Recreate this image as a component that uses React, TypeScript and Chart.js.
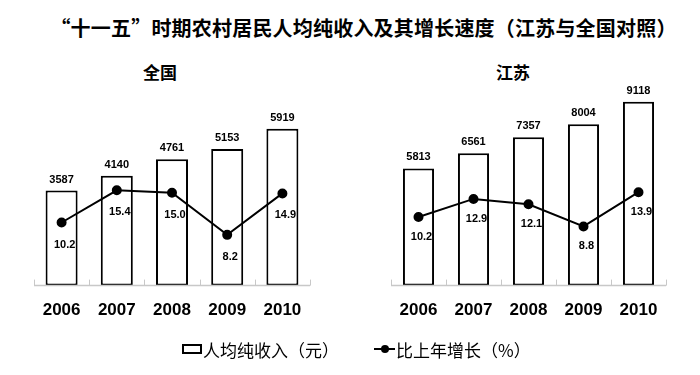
import React, { useEffect, useRef } from "react";
import { Chart, registerables } from "chart.js";

Chart.register(...registerables);

const years = ["2006", "2007", "2008", "2009", "2010"];
const nationalIncome = [3587, 4140, 4761, 5153, 5919];
const nationalGrowth = [10.2, 15.4, 15.0, 8.2, 14.9];
const jiangsuIncome = [5813, 6561, 7357, 8004, 9118];
const jiangsuGrowth = [10.2, 12.9, 12.1, 8.8, 13.9];

const titleText = "“十一五”时期农村居民人均纯收入及其增长速度（江苏与全国对照）";
const leftTitle = "全国";
const rightTitle = "江苏";
const incomeLabel = "人均纯收入（元）";
const growthLabel = "比上年增长（%）";

const LATIN = "'Liberation Sans', Arial, sans-serif";
const CJK = "'Noto Sans CJK SC', sans-serif";

const axisPlugin = {
  id: "customAxis",
  afterDraw(chart: any) {
    const ctx = chart.ctx;
    const xs = chart.scales.x;
    const bottom = chart.chartArea.bottom;
    const n = xs.ticks.length;
    ctx.save();
    ctx.strokeStyle = "#c8c8c8";
    ctx.lineWidth = 1.5;
    ctx.beginPath();
    ctx.moveTo(xs.left, bottom);
    ctx.lineTo(xs.right, bottom);
    ctx.stroke();
    ctx.lineWidth = 1;
    for (let i = 0; i <= n; i++) {
      let x: number;
      if (i === 0) x = xs.left;
      else if (i === n) x = xs.right;
      else x = (xs.getPixelForValue(i - 1) + xs.getPixelForValue(i)) / 2;
      x = Math.round(x) + 0.5;
      ctx.beginPath();
      ctx.moveTo(x, bottom);
      ctx.lineTo(x, bottom - 6);
      ctx.stroke();
    }
    ctx.restore();
  },
};

const labelPlugin = {
  id: "valueLabels",
  afterDatasetsDraw(chart: any) {
    const ctx = chart.ctx;
    const opts = chart.options.plugins.valueLabels || {};
    ctx.save();
    ctx.font = `bold 11px ${LATIN}`;
    ctx.fillStyle = "#000";
    ctx.textAlign = "center";
    ctx.textBaseline = "middle";
    const barMeta = chart.getDatasetMeta(0);
    const barData = chart.data.datasets[0].data;
    barMeta.data.forEach((el: any, i: number) => {
      ctx.fillText(String(barData[i]), el.x, el.y - 11);
    });
    const lineMeta = chart.getDatasetMeta(1);
    const lineData = chart.data.datasets[1].data;
    lineMeta.data.forEach((el: any, i: number) => {
      ctx.fillText(Number(lineData[i]).toFixed(1), el.x + 3, el.y + (opts.lineOffset || 22));
    });
    ctx.restore();
  },
};

type ChartProps = {
  income: number[];
  growth: number[];
  yMax: number;
  y2Max: number;
  padding: { left: number; right: number; top: number; bottom: number };
  barPct: number;
  lineOffset: number;
};

function IncomeChart(props: ChartProps) {
  const ref = useRef<HTMLCanvasElement | null>(null);
  useEffect(() => {
    if (!ref.current) return;
    const chart = new Chart(ref.current, {
      type: "bar",
      data: {
        labels: years,
        datasets: [
          {
            type: "bar",
            label: incomeLabel,
            data: props.income,
            backgroundColor: "#ffffff",
            borderColor: "#000000",
            borderWidth: 2,
            borderSkipped: false,
            barPercentage: props.barPct,
            categoryPercentage: 1,
            yAxisID: "y",
            order: 2,
          } as any,
          {
            type: "line",
            label: growthLabel,
            data: props.growth,
            borderColor: "#000000",
            backgroundColor: "#000000",
            borderWidth: 2,
            pointRadius: 4,
            pointBackgroundColor: "#000000",
            pointBorderColor: "#000000",
            tension: 0,
            yAxisID: "y2",
            order: 1,
          } as any,
        ],
      },
      options: {
        responsive: false,
        animation: false,
        devicePixelRatio: 1,
        layout: { padding: props.padding },
        plugins: {
          legend: { display: false },
          tooltip: { enabled: false },
          title: { display: false },
          valueLabels: { lineOffset: props.lineOffset },
        } as any,
        scales: {
          x: {
            grid: { display: false, drawTicks: false },
            border: { display: false },
            ticks: {
              color: "#000",
              padding: 15,
              font: { family: LATIN, size: 17, weight: "bold" },
            },
          },
          y: {
            display: false,
            min: 0,
            max: props.yMax,
          },
          y2: {
            display: false,
            position: "right",
            min: 0,
            max: props.y2Max,
          },
        },
      },
      plugins: [axisPlugin, labelPlugin],
    });
    return () => chart.destroy();
  }, []);
  return <canvas ref={ref} width={350} height={281} style={{ display: "block", width: 350, height: 281 }} />;
}

export default function App() {
  return (
    <div
      style={{
        position: "fixed",
        left: 0,
        top: 0,
        width: 700,
        height: 375,
        background: "#fff",
        overflow: "hidden",
      }}
    >
      <div
        style={{
          position: "absolute",
          left: 0,
          width: 727,
          top: 14,
          textAlign: "center",
          fontFamily: CJK,
          fontSize: 20,
          fontWeight: 700,
          letterSpacing: 0.2,
          lineHeight: "28px",
          whiteSpace: "nowrap",
          color: "#000",
        }}
      >
        {titleText}
      </div>
      <div
        style={{
          position: "absolute",
          left: 60,
          width: 200,
          top: 60,
          textAlign: "center",
          fontFamily: CJK,
          fontSize: 17,
          fontWeight: 700,
          lineHeight: "24px",
          color: "#000",
        }}
      >
        {leftTitle}
      </div>
      <div
        style={{
          position: "absolute",
          left: 413,
          width: 200,
          top: 60,
          textAlign: "center",
          fontFamily: CJK,
          fontSize: 17,
          fontWeight: 700,
          lineHeight: "24px",
          color: "#000",
        }}
      >
        {rightTitle}
      </div>
      <div style={{ position: "absolute", left: 0, top: 60 }}>
        <IncomeChart
          income={nationalIncome}
          growth={nationalGrowth}
          yMax={7000}
          y2Max={30}
          padding={{ left: 34, right: 40, top: 40, bottom: 5 }}
          barPct={0.58}
          lineOffset={22}
        />
      </div>
      <div style={{ position: "absolute", left: 350, top: 60 }}>
        <IncomeChart
          income={jiangsuIncome}
          growth={jiangsuGrowth}
          yMax={10000}
          y2Max={30}
          padding={{ left: 41, right: 34, top: 24, bottom: 5 }}
          barPct={0.565}
          lineOffset={20}
        />
      </div>
      <div
        style={{
          position: "absolute",
          left: 182,
          top: 337,
          height: 24,
          display: "flex",
          alignItems: "center",
          fontFamily: CJK,
          fontSize: 17,
          color: "#000",
          whiteSpace: "nowrap",
        }}
      >
        <span
          style={{
            display: "inline-block",
            width: 16,
            height: 6,
            border: "2px solid #000",
            marginRight: 1,
          }}
        />
        <span>{incomeLabel}</span>
        <span
          style={{
            position: "relative",
            display: "inline-block",
            width: 21,
            height: 2,
            background: "#000",
            marginLeft: 35,
            marginRight: 1,
          }}
        >
          <span
            style={{
              position: "absolute",
              left: 7,
              top: -3,
              width: 8,
              height: 8,
              borderRadius: 4,
              background: "#000",
            }}
          />
        </span>
        <span>{growthLabel}</span>
      </div>
    </div>
  );
}
